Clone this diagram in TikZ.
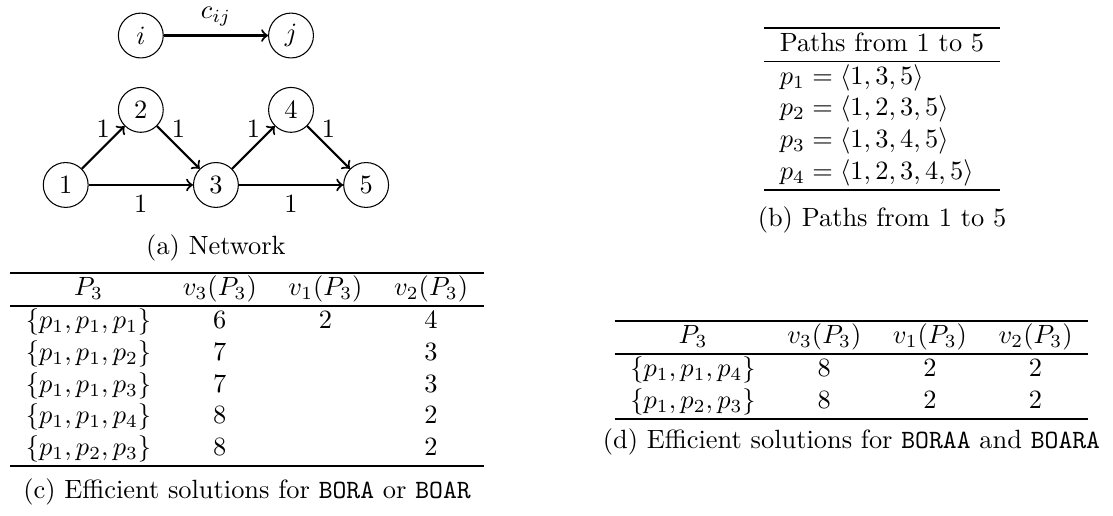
\documentclass[tikz,border=0pt]{standalone}
\usepackage{booktabs}
\setlength{\aboverulesep}{0pt}
\setlength{\belowrulesep}{0pt}
\begin{document}
\begin{tikzpicture}
\tikzstyle{vertex} = [shape = circle, draw, minimum size = 17pt, inner sep = 0pt]
\tikzstyle{arc} = [thick, ->]
\tikzstyle{tab} = [inner sep = 0pt, anchor = north]

\useasboundingbox (0,0) rectangle (14.82,-6.87);

% (a) the network
\begin{scope}[shift={(0.875,-2.463)}]
\node[vertex] (i) at (1,1.99) {$i$};
\node[vertex] (j) at (3,1.99) {$j$};
\draw[arc] (i) -- node[above] {$c_{ij}$} (j);

\node[vertex] (v1) at (0,0) {1};
\node[vertex] (v2) at (1,1) {2};
\node[vertex] (v3) at (2,0) {3};
\node[vertex] (v4) at (3,1) {4};
\node[vertex] (v5) at (4,0) {5};

\draw[arc] (v1) -- node[above] {1} (v2);
\draw[arc] (v2) -- node[above] {1} (v3);
\draw[arc] (v3) -- node[above] {1} (v4);
\draw[arc] (v4) -- node[above] {1} (v5);
\draw[arc] (v1) -- node[below] {1} (v3);
\draw[arc] (v3) -- node[below] {1} (v5);

\node (capa) at (2,-0.84) {(a) Network};
\end{scope}

% (b) paths
\node[tab] (tabb) at (11.744,-0.350) {\begin{tabular}{l}
\toprule
Paths from 1 to 5\\
\midrule
$p_1=\langle 1,3,5\rangle$\\
$p_2=\langle 1,2,3,5\rangle$\\
$p_3=\langle 1,3,4,5\rangle$\\
$p_4=\langle 1,2,3,4,5\rangle$\\
\bottomrule
\end{tabular}};
\node (capb) at (11.744,-2.929) {(b) Paths from 1 to 5};

% (c) BORA / BOAR
\node[tab] (tabc) at (3.289,-3.609) {\begin{tabular}{cccc}
\toprule
$P_3$ & $v_3(P_3)$ & $v_1(P_3)$ & $v_2(P_3)$\\
\midrule
$\{p_1,p_1,p_1\}$ & 6 & 2 & 4\\
$\{p_1,p_1,p_2\}$ & 7 & & 3\\
$\{p_1,p_1,p_3\}$ & 7 & & 3\\
$\{p_1,p_1,p_4\}$ & 8 & & 2\\
$\{p_1,p_2,p_3\}$ & 8 & & 2\\
\bottomrule
\end{tabular}};
\node (capc) at (3.289,-6.551) {(c) Efficient solutions for \texttt{BORA} or \texttt{BOAR}};

% (d) BORAA / BOARA
\node[tab] (tabd) at (11.338,-4.248) {\begin{tabular}{cccc}
\toprule
$P_3$ & $v_3(P_3)$ & $v_1(P_3)$ & $v_2(P_3)$\\
\midrule
$\{p_1,p_1,p_4\}$ & 8 & 2 & 2\\
$\{p_1,p_2,p_3\}$ & 8 & 2 & 2\\
\bottomrule
\end{tabular}};
\node (capd) at (11.338,-5.886) {(d) Efficient solutions for \texttt{BORAA} and \texttt{BOARA}};

\end{tikzpicture}
\end{document}
